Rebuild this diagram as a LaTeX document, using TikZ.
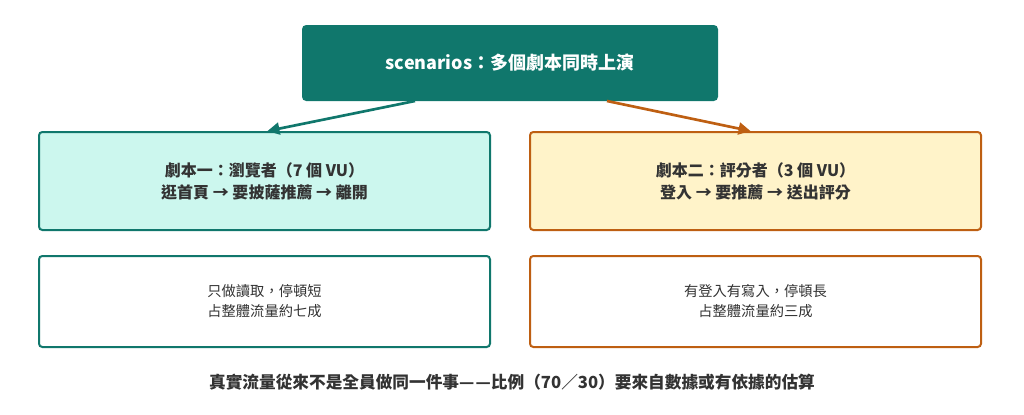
\documentclass[tikz,border=0pt]{standalone}
\usepackage{fontspec}
\setmainfont{Noto Sans CJK TC}
\usetikzlibrary{arrows.meta,calc}

\definecolor{tealDark}{RGB}{16,119,108}
\definecolor{mintFill}{RGB}{204,247,238}
\definecolor{rustLine}{RGB}{190,95,18}
\definecolor{creamFill}{RGB}{255,243,201}
\definecolor{inkGray}{RGB}{51,51,51}

\tikzset{every picture/.style={line width=0.75pt}}
\tikzset{
  scenbox/.style={draw, line width=1.5pt, rounded corners=2.5pt, align=center, inner sep=0.75pt, text=inkGray},
  flowarrow/.style={line width=2pt, -{Triangle[length=9pt,width=9pt]}}
}

\begin{document}
\begin{tikzpicture}[x=0.75pt,y=0.75pt,yscale=-1,xscale=1]
	\useasboundingbox (0,0) rectangle (1024,414);
	
	% Text Node
	\node [scenbox, draw=tealDark, fill=tealDark, text=white, minimum width=414*0.75pt, minimum height=74*0.75pt, font=\bfseries\fontsize{13.5}{16}\selectfont] (top) at (510,63) {scenarios：多個劇本同時上演};
	% Text Node
	\node [scenbox, draw=tealDark, fill=mintFill, minimum width=451*0.75pt, minimum height=98*0.75pt, font=\bfseries\fontsize{12}{16.5}\selectfont] (browse) at (264.5,181) {劇本一：瀏覽者（7 個 VU）\\逛首頁 → 要披薩推薦 → 離開};
	% Text Node
	\node [scenbox, draw=rustLine, fill=creamFill, minimum width=451*0.75pt, minimum height=98*0.75pt, font=\bfseries\fontsize{12}{16.5}\selectfont] (rate) at (755.5,181) {劇本二：評分者（3 個 VU）\\登入 → 要推薦 → 送出評分};
	% Text Node
	\node [scenbox, draw=tealDark, fill=white, minimum width=451*0.75pt, minimum height=91*0.75pt, font=\fontsize{10.7}{15}\selectfont] (browsenote) at (264.5,301.5) {只做讀取，停頓短\\占整體流量約七成};
	% Text Node
	\node [scenbox, draw=rustLine, fill=white, minimum width=451*0.75pt, minimum height=91*0.75pt, font=\fontsize{10.7}{15}\selectfont] (ratenote) at (755.5,301.5) {有登入有寫入，停頓長\\占整體流量約三成};
	% Text Node
	\node [inner sep=0.75pt, text=inkGray, font=\bfseries\fontsize{12.5}{15}\selectfont] (caption) at (512,382) {真實流量從來不是全員做同一件事—\kern1pt—比例（70／30）要來自數據或有依據的估算};
	
	%Straight Lines
	\draw [flowarrow, color=tealDark] ($(top.south)+(-95,0)$) -- ($(browse.north)+(3,0)$);
	%Straight Lines
	\draw [flowarrow, color=rustLine] ($(top.south)+(97,0)$) -- ($(rate.north)+(-5,0)$);
	
\end{tikzpicture}
\end{document}
